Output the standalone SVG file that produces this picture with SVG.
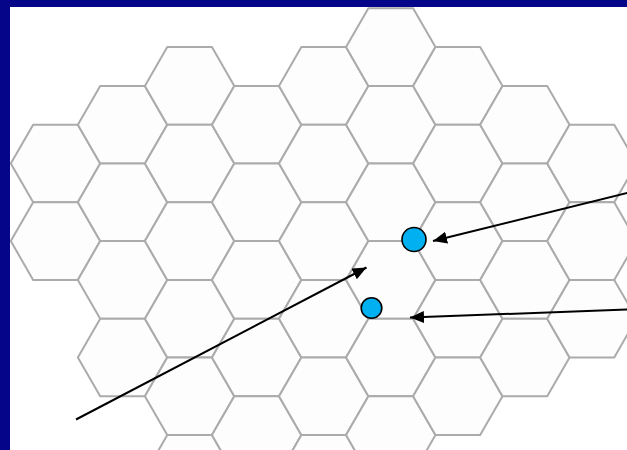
<svg xmlns="http://www.w3.org/2000/svg" xmlns:xlink="http://www.w3.org/1999/xlink" width="627" height="450" viewBox="0 0 627 450">
  <style>
    .hex { fill: #fdfdfd; stroke: #ababab; stroke-width: 2; stroke-linejoin: round; }
    .cell { fill: #00b0f0; stroke: #000000; stroke-width: 1.6; }
    .conn { fill: none; stroke: #000000; stroke-width: 2; marker-end: url(#arrow); }
    .frame { fill: #05058a; }
  </style>
  <defs>
    <path id="h" d="M-44.7,0 L-22.35,-38.8 L22.35,-38.8 L44.7,0 L22.35,38.8 L-22.35,38.8 Z"/>
    <marker id="arrow" markerUnits="userSpaceOnUse" markerWidth="16" markerHeight="14" refX="14" refY="6" orient="auto" viewBox="0 0 16 14">
      <path d="M0,0 L14,6 L0,12 Z" fill="#000000"/>
    </marker>
  </defs>
  <rect x="0" y="0" width="627" height="450" fill="#ffffff"/>
  <g id="hex-grid">
    <g id="col0">
      <use id="h0-1" class="hex" href="#h" x="55.5" y="163.5"/>
      <use id="h0-2" class="hex" href="#h" x="55.5" y="241.1"/>
    </g>
    <g id="col1">
      <use id="h1-1" class="hex" href="#h" x="122.55" y="124.7"/>
      <use id="h1-2" class="hex" href="#h" x="122.55" y="202.3"/>
      <use id="h1-3" class="hex" href="#h" x="122.55" y="279.9"/>
      <use id="h1-4" class="hex" href="#h" x="122.55" y="357.5"/>
    </g>
    <g id="col2">
      <use id="h2-1" class="hex" href="#h" x="189.6" y="85.9"/>
      <use id="h2-2" class="hex" href="#h" x="189.6" y="163.5"/>
      <use id="h2-3" class="hex" href="#h" x="189.6" y="241.1"/>
      <use id="h2-4" class="hex" href="#h" x="189.6" y="318.7"/>
      <use id="h2-5" class="hex" href="#h" x="189.6" y="396.3"/>
      <use id="h2-6" class="hex" href="#h" x="189.6" y="473.9"/>
    </g>
    <g id="col3">
      <use id="h3-1" class="hex" href="#h" x="256.65" y="124.7"/>
      <use id="h3-2" class="hex" href="#h" x="256.65" y="202.3"/>
      <use id="h3-3" class="hex" href="#h" x="256.65" y="279.9"/>
      <use id="h3-4" class="hex" href="#h" x="256.65" y="357.5"/>
      <use id="h3-5" class="hex" href="#h" x="256.65" y="435.1"/>
    </g>
    <g id="col4">
      <use id="h4-1" class="hex" href="#h" x="323.7" y="85.9"/>
      <use id="h4-2" class="hex" href="#h" x="323.7" y="163.5"/>
      <use id="h4-3" class="hex" href="#h" x="323.7" y="241.1"/>
      <use id="h4-4" class="hex" href="#h" x="323.7" y="318.7"/>
      <use id="h4-5" class="hex" href="#h" x="323.7" y="396.3"/>
      <use id="h4-6" class="hex" href="#h" x="323.7" y="473.9"/>
    </g>
    <g id="col5">
      <use id="h5-1" class="hex" href="#h" x="390.75" y="47.1"/>
      <use id="h5-2" class="hex" href="#h" x="390.75" y="124.7"/>
      <use id="h5-3" class="hex" href="#h" x="390.75" y="202.3"/>
      <use id="h5-4" class="hex" href="#h" x="390.75" y="279.9"/>
      <use id="h5-5" class="hex" href="#h" x="390.75" y="357.5"/>
      <use id="h5-6" class="hex" href="#h" x="390.75" y="435.1"/>
    </g>
    <g id="col6">
      <use id="h6-1" class="hex" href="#h" x="457.8" y="85.9"/>
      <use id="h6-2" class="hex" href="#h" x="457.8" y="163.5"/>
      <use id="h6-3" class="hex" href="#h" x="457.8" y="241.1"/>
      <use id="h6-4" class="hex" href="#h" x="457.8" y="318.7"/>
      <use id="h6-5" class="hex" href="#h" x="457.8" y="396.3"/>
    </g>
    <g id="col7">
      <use id="h7-1" class="hex" href="#h" x="524.85" y="124.7"/>
      <use id="h7-2" class="hex" href="#h" x="524.85" y="202.3"/>
      <use id="h7-3" class="hex" href="#h" x="524.85" y="279.9"/>
      <use id="h7-4" class="hex" href="#h" x="524.85" y="357.5"/>
    </g>
    <g id="col8">
      <use id="h8-1" class="hex" href="#h" x="591.9" y="163.5"/>
      <use id="h8-2" class="hex" href="#h" x="591.9" y="241.1"/>
      <use id="h8-3" class="hex" href="#h" x="591.9" y="318.7"/>
    </g>
  </g>
  <g id="frame">
    <rect class="frame" x="0" y="0" width="627" height="7"/>
    <rect class="frame" x="0" y="0" width="10" height="450"/>
  </g>
  <g id="connectors">
    <line id="arrow-left" class="conn" x1="76" y1="419.5" x2="366.5" y2="267.5"/>
    <line id="arrow-upper" class="conn" x1="630" y1="192.3" x2="433" y2="241"/>
    <line id="arrow-lower" class="conn" x1="630" y1="309.4" x2="410" y2="317.5"/>
  </g>
  <g id="node-large">
    <circle class="cell" cx="414" cy="239.5" r="12"/>
  </g>
  <g id="node-small">
    <circle class="cell" cx="371.5" cy="308" r="10.3"/>
  </g>
</svg>
